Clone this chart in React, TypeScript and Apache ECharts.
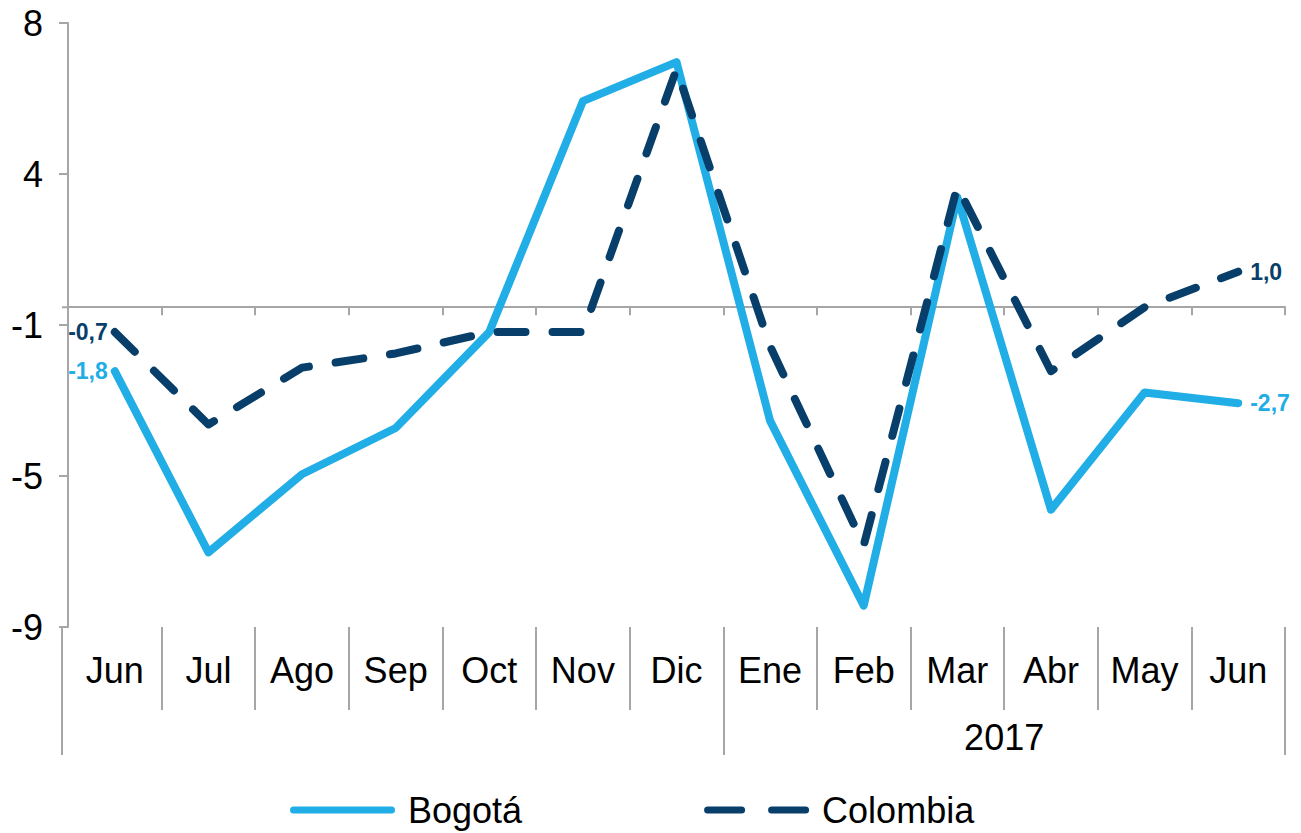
import React, { useEffect, useRef } from 'react';
import * as echarts from 'echarts';

// ---- data ----
const months = ['Jun', 'Jul', 'Ago', 'Sep', 'Oct', 'Nov', 'Dic', 'Ene', 'Feb', 'Mar', 'Abr', 'May', 'Jun'];
const bogota = [-1.8, -6.9, -4.7, -3.4, -0.7, 5.8, 6.9, -3.2, -8.4, 3.1, -5.7, -2.4, -2.7];
const colombia = [-0.7, -3.3, -1.7, -1.3, -0.7, -0.7, 6.7, -1.1, -6.7, 3.4, -1.8, 0.0, 1.0];
const seriesNames = ['Bogotá', 'Colombia'];
const yearLabel = '2017';
const yearStartIndex = 7; // first month of 2017 (Ene)
const yMin = -9;
const yMax = 8;
const yStep = 4.25;

// ---- style ----
const BLUE = '#21ADE5';
const NAVY = '#083F6A';
const GRAY = '#A6A6A6';
const FONT = '"Liberation Sans", Arial, Helvetica, sans-serif';
const GRID_LEFT = 68;
const GRID_RIGHT = 16;
const GRID_TOP = 23;
const GRID_BOTTOM = 206;
const Y_OFFSET = 6;
const LINE_W = 8;

// legend sample icons (solid bar / two dashes)
const SOLID_ICON = 'path://M3.5,0H101.5A3.5,3.5,0,0,1,101.5,7H3.5A3.5,3.5,0,0,1,3.5,0Z';
const DASH_ICON =
  'path://M3.5,0H37.5A3.5,3.5,0,0,1,37.5,7H3.5A3.5,3.5,0,0,1,3.5,0Z M67.5,0H101.5A3.5,3.5,0,0,1,101.5,7H67.5A3.5,3.5,0,0,1,67.5,0Z';

const fmt = (v: number) => v.toFixed(1).replace('.', ',');
const roundAway = (v: number) => {
  const r = Math.sign(v) * Math.round(Math.abs(v));
  return r === 0 ? '0' : String(r);
};

const withEndLabels = (vals: number[]) =>
  vals.map((v, i) => {
    if (i === 0) {
      return { value: v, symbol: 'circle', symbolSize: 0, label: { show: true, position: 'left', distance: 7 } };
    }
    if (i === vals.length - 1) {
      return { value: v, symbol: 'circle', symbolSize: 0, label: { show: true, position: 'right', distance: 12 } };
    }
    return v;
  });

const n = months.length;
const innerBoundaries = Array.from({ length: n - 1 }, (_, i) => i + 1).filter((i) => i !== yearStartIndex);
const allBoundaries = Array.from({ length: n }, (_, i) => i + 1);

export default function App() {
  const ref = useRef<HTMLDivElement>(null);

  useEffect(() => {
    if (!ref.current) return;
    const chart = echarts.init(ref.current, undefined, { renderer: 'svg' });

    const labelBase = (color: string) => ({
      show: false,
      formatter: (p: any) => fmt(p.value),
      color,
      fontFamily: FONT,
      fontWeight: 'bold' as const,
      fontSize: 23,
    });

    const option: any = {
      animation: false,
      backgroundColor: '#ffffff',
      grid: { left: GRID_LEFT, right: GRID_RIGHT, top: GRID_TOP, bottom: GRID_BOTTOM, containLabel: false },
      legend: {
        data: [
          { name: seriesNames[0], icon: SOLID_ICON, itemStyle: { color: BLUE, borderWidth: 0 } },
          { name: seriesNames[1], icon: DASH_ICON, itemStyle: { color: NAVY, borderWidth: 0 } },
        ],
        left: 290,
        top: 792,
        padding: 0,
        itemWidth: 105,
        itemHeight: 8,
        itemGap: 182,
        textStyle: { fontSize: 36, color: '#000', fontFamily: FONT, padding: [0, 0, 0, 8] },
      },
      xAxis: [
        {
          type: 'category',
          data: months,
          boundaryGap: true,
          position: 'bottom',
          axisLine: { show: false, onZero: false },
          axisTick: { show: false },
          axisLabel: { fontSize: 36, color: '#000', fontFamily: FONT, margin: 25, interval: 0 },
          splitLine: { show: false },
        },
        {
          type: 'value',
          min: 0,
          max: n,
          position: 'bottom',
          axisLine: { show: true, onZero: true, lineStyle: { color: GRAY, width: 2 } },
          axisTick: { show: true, customValues: allBoundaries, length: 8, lineStyle: { color: GRAY, width: 2 } },
          axisLabel: { show: false },
          splitLine: { show: false },
        },
        {
          type: 'value',
          min: 0,
          max: n,
          position: 'bottom',
          axisLine: { show: false, onZero: false },
          axisTick: { show: true, customValues: innerBoundaries, length: 83, lineStyle: { color: GRAY, width: 2 } },
          axisLabel: { show: false },
          splitLine: { show: false },
        },
        {
          type: 'value',
          min: 0,
          max: n,
          position: 'bottom',
          axisLine: { show: false, onZero: false },
          axisTick: { show: true, customValues: [yearStartIndex, n], length: 128, lineStyle: { color: GRAY, width: 2 } },
          axisLabel: {
            show: true,
            customValues: [(yearStartIndex + n) / 2],
            formatter: () => yearLabel,
            fontSize: 36,
            color: '#000',
            fontFamily: FONT,
            margin: 92,
          },
          splitLine: { show: false },
        },
      ],
      yAxis: {
        type: 'value',
        min: yMin,
        max: yMax,
        interval: yStep,
        offset: Y_OFFSET,
        axisLine: { show: true, lineStyle: { color: GRAY, width: 2 } },
        axisTick: { show: true, length: 9, lineStyle: { color: GRAY, width: 2 } },
        axisLabel: { fontSize: 36, color: '#000', fontFamily: FONT, margin: 19, formatter: (v: number) => roundAway(v) },
        splitLine: { show: false },
      },
      series: [
        {
          name: seriesNames[0],
          type: 'line',
          xAxisIndex: 0,
          yAxisIndex: 0,
          data: withEndLabels(bogota),
          symbol: 'none',
          lineStyle: { color: BLUE, width: LINE_W, cap: 'round', join: 'round' },
          itemStyle: { color: BLUE },
          label: labelBase(BLUE),
          z: 3,
        },
        {
          name: seriesNames[1],
          type: 'line',
          xAxisIndex: 0,
          yAxisIndex: 0,
          data: withEndLabels(colombia),
          symbol: 'none',
          lineStyle: { color: NAVY, width: LINE_W, type: [28, 27], cap: 'round', join: 'round' },
          itemStyle: { color: NAVY },
          label: labelBase(NAVY),
          z: 4,
        },
      ],
    };

    chart.setOption(option);

    // extend the vertical axis line below the plot and join the zero line to it
    const gridBottomY = chart.convertToPixel({ yAxisIndex: 0 }, yMin) as number;
    const zeroY = chart.convertToPixel({ yAxisIndex: 0 }, 0) as number;
    const axisX = GRID_LEFT - Y_OFFSET;
    chart.setOption({
      graphic: [
        {
          type: 'line',
          shape: { x1: axisX, y1: gridBottomY, x2: axisX, y2: gridBottomY + 128 },
          style: { stroke: GRAY, lineWidth: 2 },
          silent: true,
        },
        {
          type: 'line',
          shape: { x1: axisX, y1: zeroY, x2: GRID_LEFT, y2: zeroY },
          style: { stroke: GRAY, lineWidth: 2 },
          silent: true,
        },
      ],
    });

    return () => chart.dispose();
  }, []);

  return <div ref={ref} style={{ width: 1301, height: 833, position: 'absolute', left: 0, top: 0 }} />;
}
